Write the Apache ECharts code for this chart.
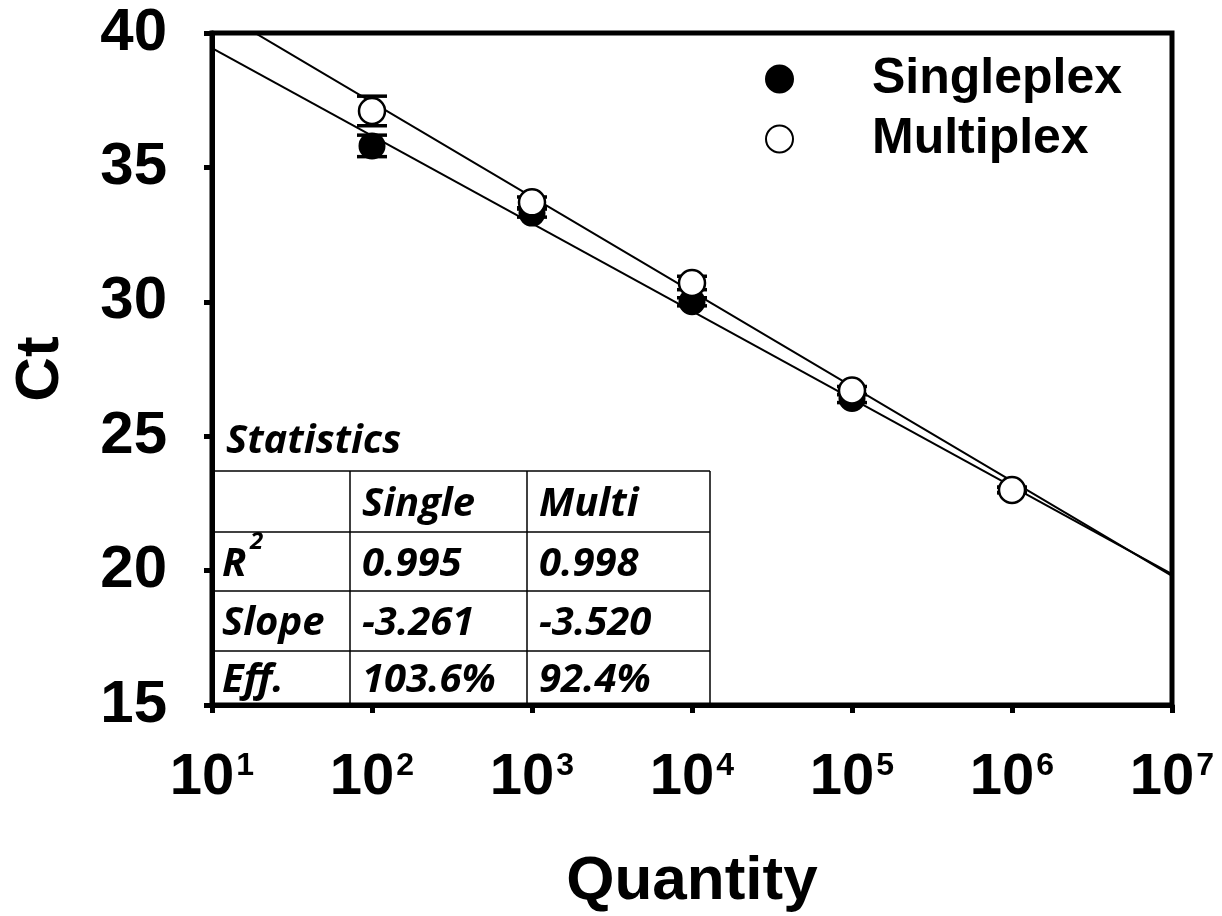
<!DOCTYPE html>
<html>
<head>
<meta charset="utf-8">
<script src="https://cdn.jsdelivr.net/npm/echarts@6/dist/echarts.min.js"></script>
<style>
  html, body { margin: 0; background: #fff; }
  #chart { width: 1222px; height: 916px; }
</style>
</head>
<body>
<div id="chart"></div>
<script>
// data
const quantities = [1e2, 1e3, 1e4, 1e5, 1e6]
const singleCt = [35.8, 33.3, 30.0, 26.4, 23.0]
const singleErr = [0.4, 0.15, 0.15, 0.15, 0.1]
const multiCt = [37.1, 33.7, 30.7, 26.7, 23.0]
const multiErr = [0.55, 0.2, 0.25, 0.15, 0.1]
// regression line end points (x = 10 and x = 1e7)
const fitX = [1e1, 1e7]
const singleFit = [39.44, 19.87]
const multiFit = [40.95, 19.80]
const xTickExps = ['1', '2', '3', '4', '5', '6', '7']
const yTicks = [15, 20, 25, 30, 35, 40]
const statsHeader = ['', 'Single', 'Multi']
const statsRows = [
  ['R', '0.995', '0.998'],
  ['Slope', '-3.261', '-3.520'],
  ['Eff.', '103.6%', '92.4%']
]

const FONT = 'Liberation Sans, Arial, sans-serif'
const TFONT = 'Open Sans, sans-serif'

const chart = echarts.init(document.getElementById('chart'))

const pairs = (xs, ys) => xs.map((x, i) => [x, ys[i]])
const errData = (ys, es) => quantities.map((x, i) => [x, ys[i] - es[i], ys[i] + es[i]])

const errRender = (params, api) => {
  const lo = api.coord([api.value(0), api.value(1)])
  const hi = api.coord([api.value(0), api.value(2)])
  const w = 15
  const st = { stroke: '#000', lineWidth: 3.5 }
  return {
    type: 'group',
    children: [
      { type: 'line', shape: { x1: lo[0], y1: lo[1], x2: hi[0], y2: hi[1] }, style: st },
      { type: 'line', shape: { x1: lo[0] - w, y1: lo[1], x2: lo[0] + w, y2: lo[1] }, style: st },
      { type: 'line', shape: { x1: hi[0] - w, y1: hi[1], x2: hi[0] + w, y2: hi[1] }, style: st }
    ]
  }
}

// statistics table (layout in px)
const colX = [212, 350, 527, 710]
const rowY = [471, 532, 591, 651, 705]
const tableText = { fontFamily: TFONT, fontSize: 40, fontWeight: 'bold', fontStyle: 'italic', fill: '#000' }
const tableGraphics = []
rowY.slice(0, 4).forEach(y => {
  tableGraphics.push({ type: 'line', shape: { x1: colX[0], y1: y, x2: colX[3], y2: y }, style: { stroke: '#000', lineWidth: 1.5 } })
})
colX.slice(1).forEach(x => {
  tableGraphics.push({ type: 'line', shape: { x1: x, y1: rowY[0], x2: x, y2: rowY[4] }, style: { stroke: '#000', lineWidth: 1.5 } })
})
tableGraphics.push({ type: 'text', x: 226, y: 442, style: Object.assign({ text: 'Statistics', verticalAlign: 'middle' }, tableText) })
statsHeader.forEach((t, j) => {
  if (t) tableGraphics.push({ type: 'text', x: colX[j] + 12, y: (rowY[0] + rowY[1]) / 2 + 3, style: Object.assign({ text: t, verticalAlign: 'middle' }, tableText) })
})
statsRows.forEach((row, i) => {
  const cy = (rowY[i + 1] + rowY[i + 2]) / 2 + 3
  row.forEach((t, j) => {
    tableGraphics.push({ type: 'text', x: colX[j] + (j === 0 ? 10 : 12), y: cy, style: Object.assign({ text: t, verticalAlign: 'middle' }, tableText) })
  })
  if (i === 0) {
    tableGraphics.push({ type: 'text', x: colX[0] + 38, y: cy - 22, style: Object.assign({}, tableText, { text: '2', fontSize: 24, verticalAlign: 'middle' }) })
  }
})

chart.setOption({
  animation: false,
  backgroundColor: '#fff',
  grid: { left: 212, top: 33, right: 50, bottom: 211, show: true, borderColor: '#000', borderWidth: 5, outerBoundsMode: 'none' },
  legend: {
    orient: 'vertical',
    left: 760,
    top: 48,
    itemWidth: 27,
    itemHeight: 27,
    itemGap: 8,
    data: ['Singleplex', 'Multiplex'],
    textStyle: { fontFamily: FONT, fontSize: 50, lineHeight: 52, fontWeight: 'bold', color: '#000', padding: [0, 0, 0, 74] }
  },
  xAxis: {
    type: 'log',
    logBase: 10,
    min: 10,
    max: 1e7,
    name: 'Quantity',
    nameLocation: 'middle',
    nameGap: 146,
    nameTextStyle: { fontFamily: FONT, fontSize: 62, fontWeight: 'bold', color: '#000' },
    axisLine: { lineStyle: { color: '#000', width: 5 } },
    axisTick: { length: 8, lineStyle: { color: '#000', width: 5 } },
    minorTick: { show: false },
    splitLine: { show: false },
    axisLabel: {
      margin: 44,
      formatter: v => '{b|10}{s|' + xTickExps[Math.round(Math.log10(v)) - 1] + '}',
      rich: {
        b: { fontFamily: FONT, fontSize: 58, fontWeight: 'bold', color: '#000' },
        s: { fontFamily: FONT, fontSize: 32, fontWeight: 'bold', color: '#000', padding: [0, 0, 24, 2] }
      }
    }
  },
  yAxis: {
    type: 'value',
    min: yTicks[0],
    max: yTicks[yTicks.length - 1],
    interval: 5,
    name: 'Ct',
    nameLocation: 'middle',
    nameGap: 140,
    nameRotate: 90,
    nameTextStyle: { fontFamily: FONT, fontSize: 62, fontWeight: 'bold', color: '#000' },
    axisLine: { show: true, lineStyle: { color: '#000', width: 5 } },
    axisTick: { show: true, length: 8, lineStyle: { color: '#000', width: 5 } },
    splitLine: { show: false },
    axisLabel: { margin: 45, fontFamily: FONT, fontSize: 60, fontWeight: 'bold', color: '#000' }
  },
  graphic: tableGraphics,
  series: [
    {
      name: 'fitSingle', type: 'line', data: pairs(fitX, singleFit), symbol: 'none', clip: true,
      lineStyle: { color: '#000', width: 2 }, z: 1
    },
    {
      name: 'fitMulti', type: 'line', data: pairs(fitX, multiFit), symbol: 'none', clip: true,
      lineStyle: { color: '#000', width: 2 }, z: 1
    },
    { name: 'errSingle', type: 'custom', renderItem: errRender, data: errData(singleCt, singleErr), z: 2 },
    { name: 'errMulti', type: 'custom', renderItem: errRender, data: errData(multiCt, multiErr), z: 2 },
    {
      name: 'Singleplex', type: 'scatter', data: pairs(quantities, singleCt), symbol: 'circle', symbolSize: 25,
      itemStyle: { color: '#000', borderColor: '#000', borderWidth: 2, opacity: 1 }, z: 3
    },
    {
      name: 'Multiplex', type: 'scatter', data: pairs(quantities, multiCt), symbol: 'circle', symbolSize: 26,
      itemStyle: { color: '#fff', borderColor: '#000', borderWidth: 2.5, opacity: 1 }, z: 4
    }
  ]
})
</script>
</body>
</html>
